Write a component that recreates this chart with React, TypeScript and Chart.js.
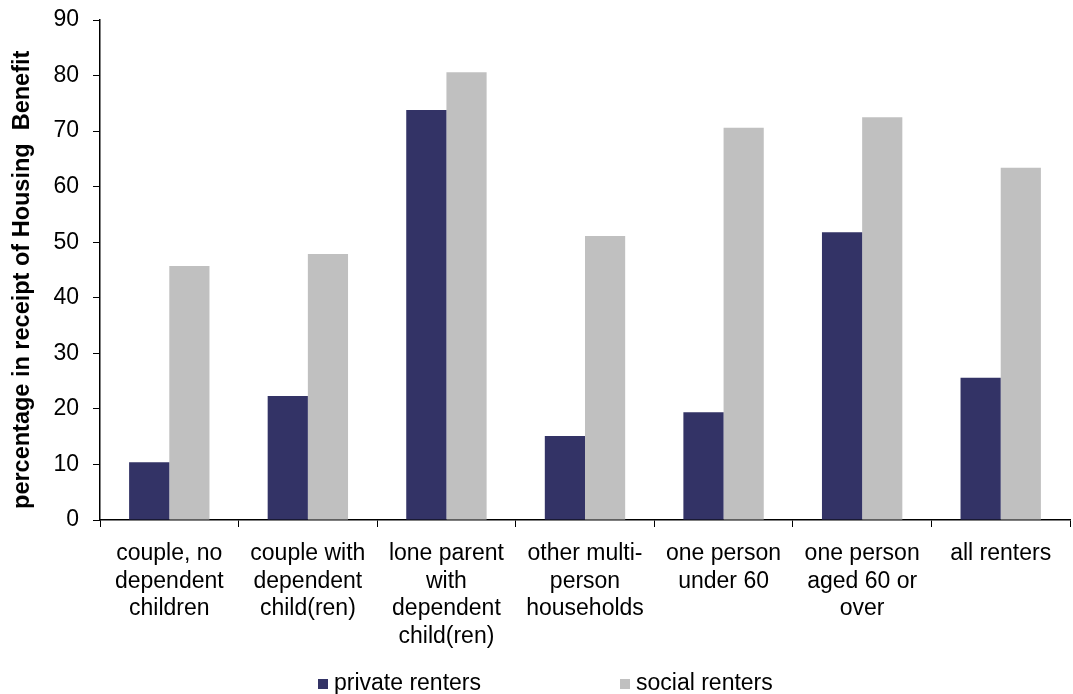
import React, { useEffect, useRef } from "react";
import { Chart, registerables } from "chart.js";

Chart.register(...registerables);

const categories: string[][] = [
  ["couple, no", "dependent", "children"],
  ["couple with", "dependent", "child(ren)"],
  ["lone parent", "with", "dependent", "child(ren)"],
  ["other multi-", "person", "households"],
  ["one person", "under 60"],
  ["one person", "aged 60 or", "over"],
  ["all renters"],
];
const privateRenters = [10.4, 22.3, 73.8, 15.1, 19.4, 51.8, 25.6];
const socialRenters = [45.7, 47.9, 80.6, 51.1, 70.6, 72.5, 63.4];
const seriesNames = ["private renters", "social renters"];
const seriesColors = ["#333366", "#C0C0C0"];
const yTitle = "percentage in receipt of Housing  Benefit   ";

const FONT = "'Liberation Sans', Arial, sans-serif";

const legendPlugin = {
  id: "customLegend",
  afterDraw(chart: any) {
    const ctx = chart.ctx;
    ctx.save();
    ctx.font = `23px ${FONT}`;
    ctx.textBaseline = "middle";
    const y = 684;
    const xs = [318, 620];
    seriesNames.forEach((name, i) => {
      ctx.fillStyle = seriesColors[i];
      ctx.fillRect(xs[i], y - 5, 10, 10);
      ctx.fillStyle = "#000";
      ctx.fillText(name, xs[i] + 16, y);
    });
    ctx.restore();
  },
};

export default function App() {
  const ref = useRef<HTMLCanvasElement | null>(null);
  useEffect(() => {
    if (!ref.current) return;
    const chart = new Chart(ref.current, {
      type: "bar",
      data: {
        labels: categories,
        datasets: [
          { label: seriesNames[0], data: privateRenters, backgroundColor: seriesColors[0] },
          { label: seriesNames[1], data: socialRenters, backgroundColor: seriesColors[1] },
        ],
      },
      options: {
        animation: false,
        responsive: false,
        maintainAspectRatio: false,
        layout: { padding: { top: 20, right: 3, bottom: 0, left: 0 } },
        plugins: { legend: { display: false }, tooltip: { enabled: false } },
        datasets: { bar: { barPercentage: 1, categoryPercentage: 0.58 } },
        scales: {
          x: {
            afterFit: (s: any) => { s.height = 174; s.paddingLeft = 0; s.paddingRight = 0; },
            grid: { display: true, drawOnChartArea: false, drawTicks: true, tickLength: 7, color: "#000", offset: true },
            border: { display: true, color: "#000", width: 1.5 },
            ticks: { color: "#000", font: { family: FONT, size: 23, lineHeight: 1.2 }, maxRotation: 0, autoSkip: false, padding: 13 },
          },
          y: {
            min: 0,
            max: 90,
            afterFit: (s: any) => { s.width = 100; s.paddingTop = 0; s.paddingBottom = 0; },
            ticks: { stepSize: 10, color: "#000", font: { family: FONT, size: 23 }, padding: 14 },
            grid: { display: true, drawOnChartArea: false, drawTicks: true, tickLength: 7, color: "#000" },
            border: { display: true, color: "#000", width: 1.5 },
            title: { display: true, text: yTitle, color: "#000", font: { family: FONT, size: 23.5, weight: "bold" }, padding: { top: 8, bottom: 0 } },
          },
        },
      },
      plugins: [legendPlugin],
    });
    return () => chart.destroy();
  }, []);
  return (
    <div style={{ position: "fixed", left: 0, top: 0, width: 1073, height: 694, background: "#fff" }}>
      <canvas ref={ref} width={1073} height={694} style={{ display: "block" }} />
    </div>
  );
}
